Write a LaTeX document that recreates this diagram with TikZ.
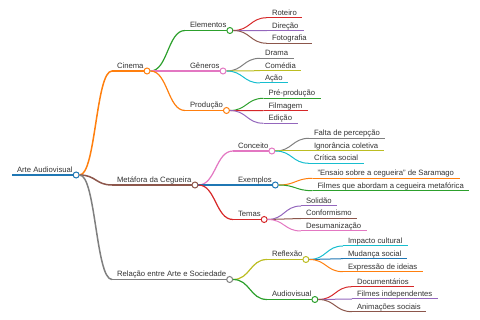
\documentclass[tikz,border=0pt]{standalone}
\usepackage{fontspec}
\setmainfont{Liberation Sans}
\usetikzlibrary{calc}
\definecolor{cBlue}{HTML}{1F77B4}
\definecolor{cOrange}{HTML}{FF7F0E}
\definecolor{cGreen}{HTML}{2CA02C}
\definecolor{cRed}{HTML}{D62728}
\definecolor{cPurple}{HTML}{9467BD}
\definecolor{cBrown}{HTML}{8C564B}
\definecolor{cPink}{HTML}{E377C2}
\definecolor{cGray}{HTML}{7F7F7F}
\definecolor{cOlive}{HTML}{BCBD22}
\definecolor{cCyan}{HTML}{17BECF}
\definecolor{txt}{HTML}{333333}
\tikzset{
  lbl/.style={anchor=base west,inner sep=0pt,outer sep=0pt,text=txt,font=\fontsize{7.7}{9}\selectfont},
  mmdot/.style={circle,minimum size=6pt,inner sep=0pt,fill=white,line width=1pt},
}
% leaf: name, xs, y, color, line width, text
\newcommand\mmleaf[6]{%
  \coordinate (#1s) at (#2,#3);
  \node[lbl] (#1) at (#2+5,#3-2.5) {#6};
  \draw[#4,line width=#5] (#1s) -- ($(#1.east |- #1s)+(5.5,0)$);
}
% inner node: name, xs, y, color, line width, text
\newcommand\mmmid[6]{%
  \coordinate (#1s) at (#2,#3);
  \node[lbl] (#1) at (#2+5,#3-2.5) {#6};
  \coordinate (#1c) at ($(#1.east |- #1s)+(3.5,0)$);
  \draw[#4,line width=#5] (#1s) -- (#1c);
  \node[mmdot,draw=#4] (#1d) at (#1c) {};
}
% link: from, to, color, line width
\newcommand\mmlink[4]{%
  \draw[#3,line width=#4] let \p1=(#1), \p2=(#2) in
    (\p1) .. controls ({(\x1+\x2)/2},\y1) and ({(\x1+\x2)/2},\y2) .. (\p2);
}
\begin{document}
\begin{tikzpicture}[x=1pt,y=-1pt]
\useasboundingbox (0,0) rectangle (480,320);
% root
\mmmid{root}{12}{175}{cBlue}{1.8pt}{Arte Audiovisual}
% level 1
\mmmid{cin}{112}{71}{cOrange}{1.5pt}{Cinema}
\mmmid{met}{112}{185}{cBrown}{1.5pt}{Metáfora da Cegueira}
\mmmid{rel}{112}{279.5}{cGray}{1.5pt}{Relação entre Arte e Sociedade}
% level 2
\mmmid{ele}{185}{30.5}{cGreen}{1.2pt}{Elementos}
\mmmid{gen}{185}{71}{cPink}{1.2pt}{Gêneros}
\mmmid{pro}{185}{110.5}{cOrange}{1.2pt}{Produção}
\mmmid{con}{233}{151}{cPink}{1.2pt}{Conceito}
\mmmid{exe}{233}{185}{cBlue}{1.2pt}{Exemplos}
\mmmid{tem}{233}{219.5}{cRed}{1.2pt}{Temas}
\mmmid{ref}{267}{259.5}{cOlive}{1.2pt}{Reflexão}
\mmmid{aud}{267}{299.5}{cGreen}{1.2pt}{Audiovisual}
% leaves
\mmleaf{rot}{267}{17.7}{cRed}{1pt}{Roteiro}
\mmleaf{dir}{267}{30.7}{cPurple}{1pt}{Direção}
\mmleaf{fot}{267}{43.3}{cBrown}{1pt}{Fotografia}
\mmleaf{dra}{260}{58.3}{cGray}{1pt}{Drama}
\mmleaf{com}{260}{70.7}{cOlive}{1pt}{Comédia}
\mmleaf{aca}{260}{83}{cCyan}{1pt}{Ação}
\mmleaf{pre}{263.5}{98.3}{cGreen}{1pt}{Pré-produção}
\mmleaf{fil}{263.5}{110.7}{cRed}{1pt}{Filmagem}
\mmleaf{edi}{263.5}{123.3}{cPurple}{1pt}{Edição}
\mmleaf{fal}{309}{138.3}{cGray}{1pt}{Falta de percepção}
\mmleaf{ign}{309}{151}{cOlive}{1pt}{Ignorância coletiva}
\mmleaf{cri}{309}{163.3}{cCyan}{1pt}{Crítica social}
\mmleaf{ens}{312.5}{178.3}{cOrange}{1pt}{"Ensaio sobre a cegueira" de Saramago}
\mmleaf{fqa}{312.5}{190.7}{cGreen}{1pt}{Filmes que abordam a cegueira metafórica}
\mmleaf{sol}{301}{206}{cPurple}{1pt}{Solidão}
\mmleaf{cfm}{301}{218.5}{cBrown}{1pt}{Conformismo}
\mmleaf{des}{301}{231}{cPink}{1pt}{Desumanização}
\mmleaf{imp}{343}{246}{cCyan}{1pt}{Impacto cultural}
\mmleaf{mud}{343}{258.7}{cBlue}{1pt}{Mudança social}
\mmleaf{exp}{343}{271.7}{cOrange}{1pt}{Expressão de ideias}
\mmleaf{doc}{352}{286.7}{cRed}{1pt}{Documentários}
\mmleaf{fin}{352}{299}{cPurple}{1pt}{Filmes independentes}
\mmleaf{ani}{352}{311.7}{cBrown}{1pt}{Animações sociais}
% links
\mmlink{rootd.east}{cins}{cOrange}{1.5pt}
\mmlink{rootd.east}{mets}{cBrown}{1.5pt}
\mmlink{rootd.east}{rels}{cGray}{1.5pt}
\mmlink{cind.east}{eles}{cGreen}{1.2pt}
\mmlink{cind.east}{gens}{cPink}{1.2pt}
\mmlink{cind.east}{pros}{cOrange}{1.2pt}
\mmlink{metd.east}{cons}{cPink}{1.2pt}
\mmlink{metd.east}{exes}{cBlue}{1.2pt}
\mmlink{metd.east}{tems}{cRed}{1.2pt}
\mmlink{reld.east}{refs}{cOlive}{1.2pt}
\mmlink{reld.east}{auds}{cGreen}{1.2pt}
\mmlink{eled.east}{rots}{cRed}{1pt}
\mmlink{eled.east}{dirs}{cPurple}{1pt}
\mmlink{eled.east}{fots}{cBrown}{1pt}
\mmlink{gend.east}{dras}{cGray}{1pt}
\mmlink{gend.east}{coms}{cOlive}{1pt}
\mmlink{gend.east}{acas}{cCyan}{1pt}
\mmlink{prod.east}{pres}{cGreen}{1pt}
\mmlink{prod.east}{fils}{cRed}{1pt}
\mmlink{prod.east}{edis}{cPurple}{1pt}
\mmlink{cond.east}{fals}{cGray}{1pt}
\mmlink{cond.east}{igns}{cOlive}{1pt}
\mmlink{cond.east}{cris}{cCyan}{1pt}
\mmlink{exed.east}{enss}{cOrange}{1pt}
\mmlink{exed.east}{fqas}{cGreen}{1pt}
\mmlink{temd.east}{sols}{cPurple}{1pt}
\mmlink{temd.east}{cfms}{cBrown}{1pt}
\mmlink{temd.east}{dess}{cPink}{1pt}
\mmlink{refd.east}{imps}{cCyan}{1pt}
\mmlink{refd.east}{muds}{cBlue}{1pt}
\mmlink{refd.east}{exps}{cOrange}{1pt}
\mmlink{audd.east}{docs}{cRed}{1pt}
\mmlink{audd.east}{fins}{cPurple}{1pt}
\mmlink{audd.east}{anis}{cBrown}{1pt}
\end{tikzpicture}
\end{document}
